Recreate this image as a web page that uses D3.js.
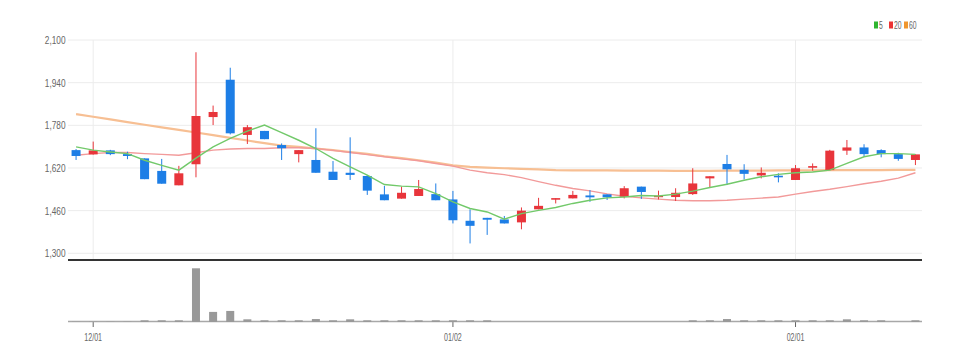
<!DOCTYPE html>
<html><head><meta charset="utf-8">
<script src="https://cdn.jsdelivr.net/npm/d3@7"></script>
<style>body{margin:0;background:#fff}svg{display:block}</style>
</head><body><svg id="c" width="970" height="362"></svg>
<script>
const dates = ["11/30","12/01","12/02","12/05","12/06","12/07","12/08","12/09","12/12","12/13","12/14","12/15","12/16","12/19","12/20","12/21","12/22","12/23","12/26","12/27","12/28","12/29","01/02","01/03","01/04","01/05","01/06","01/09","01/10","01/11","01/12","01/13","01/16","01/17","01/18","01/19","01/20","01/25","01/26","01/27","01/30","01/31","02/01","02/02","02/03","02/06","02/07","02/08","02/09","02/10"];
const openP  = [1687,1671,1686,1672,1656,1609,1555,1634,1811,1951,1744,1759,1706,1672,1650,1606,1602,1590,1521,1505,1515,1522,1502,1422,1433,1427,1416,1465,1501,1506,1517,1521,1512,1550,1511,1511,1522,1581,1635,1613,1592,1591,1575,1621,1612,1685,1697,1687,1672,1650];
const highP  = [1691,1719,1688,1681,1656,1654,1628,2054,1854,1996,1781,1759,1712,1687,1769,1646,1735,1594,1553,1550,1575,1562,1534,1465,1433,1440,1472,1508,1507,1534,1537,1521,1552,1550,1535,1544,1619,1589,1669,1634,1622,1600,1631,1637,1688,1725,1709,1690,1677,1671];
const lowP   = [1650,1670,1668,1653,1578,1561,1555,1585,1781,1746,1710,1728,1650,1641,1602,1575,1575,1519,1499,1505,1515,1499,1412,1337,1369,1412,1390,1465,1487,1506,1493,1500,1506,1504,1502,1496,1519,1547,1556,1577,1581,1566,1575,1610,1612,1669,1662,1660,1647,1631];
const closeP = [1665,1686,1672,1665,1578,1561,1600,1815,1830,1750,1773,1728,1694,1687,1602,1575,1594,1535,1499,1527,1541,1499,1424,1403,1426,1412,1460,1478,1507,1519,1510,1510,1544,1530,1516,1527,1562,1589,1615,1598,1602,1585,1619,1627,1685,1697,1672,1672,1654,1671];
const volume = [5,5,5,5,32,32,32,1000,188,206,50,32,32,32,55,32,50,32,32,32,32,32,32,32,32,0,0,0,0,0,0,0,0,0,0,0,32,32,55,32,32,32,32,32,32,50,32,32,0,32];
const ma5  = [1699,1687,1680,1674,1649,1630,1612,1657,1699,1731,1758,1781,1753,1724,1693,1656,1624,1593,1558,1552,1549,1524,1493,1468,1455,1428,1449,1461,1472,1487,1499,1508,1511,1517,1515,1522,1533,1547,1559,1574,1587,1596,1602,1605,1612,1637,1662,1674,1674,1671];
const ma20 = [1668,1674,1678,1678,1674,1671,1668,1677,1687,1691,1693,1693,1696,1696,1693,1686,1678,1670,1662,1654,1647,1637,1627,1612,1602,1595,1584,1569,1555,1543,1534,1523,1514,1508,1503,1499,1497,1497,1499,1503,1507,1511,1522,1532,1540,1550,1561,1570,1582,1602];
const ma60 = [1822,1812,1802,1792,1782,1772,1763,1753,1743,1733,1723,1713,1704,1699,1693,1687,1680,1673,1664,1657,1649,1640,1630,1624,1621,1619,1617,1615,1612,1611,1611,1611,1610,1610,1610,1609,1609,1609,1610,1610,1610,1611,1611,1611,1612,1612,1612,1612,1613,1613];
const yTicks = [1300,1460,1620,1780,1940,2100];
const xTickLabels = ["12/01","01/02","02/01"];
const legendLabels = ["5","20","60"];

const left = 67.5, right = 924;
const UP = "#e8353b", DOWN = "#1d7ee6";
const C5 = "#72c96a", C20 = "#f29a9a", C60 = "#f7bf93";
const LEG = ["#2fb52f", "#ec3434", "#f0962e"];

const svg = d3.select("#c");
const idx = d3.range(dates.length);
const x = d3.scaleBand().domain(idx).range([left, right]).padding(0);
const cx = i => x(i) + x.bandwidth() / 2;
const y = d3.scaleLinear().domain([1300, 2100]).range([253.3, 40]);
const vy = d3.scaleLinear().domain([0, d3.max(volume) / 0.895]).range([322, 262]);

function ntext(g, tx, ty, str, size, anchor, sx, fill) {
  g.append("g").attr("transform", `translate(${tx},${ty}) scale(${sx},1)`)
    .append("text").attr("font-family", "'Liberation Sans', Arial, sans-serif")
    .attr("font-size", size).attr("text-anchor", anchor).attr("fill", fill).text(str);
}

// grid
const grid = svg.append("g");
yTicks.forEach(t => {
  grid.append("line").attr("x1", 68).attr("x2", 922).attr("y1", y(t)).attr("y2", y(t))
    .attr("stroke", "#ececec").attr("stroke-width", 1);
  ntext(grid, 65.5, y(t) + 4, d3.format(",")(t), "11.5px", "end", 0.72, "#666");
});
const tickIdx = xTickLabels.map(l => dates.indexOf(l));
tickIdx.forEach((i, k) => {
  grid.append("line").attr("x1", cx(i)).attr("x2", cx(i)).attr("y1", 40).attr("y2", 260)
    .attr("stroke", "#ececec").attr("stroke-width", 1);
  grid.append("line").attr("x1", cx(i)).attr("x2", cx(i)).attr("y1", 322).attr("y2", 327)
    .attr("stroke", "#666").attr("stroke-width", 1);
  ntext(grid, cx(i), 341, xTickLabels[k], "10px", "middle", 0.71, "#666");
});

// MA lines
const line = arr => d3.line().x((d, i) => cx(i)).y(d => y(d))(arr);
svg.append("path").attr("d", line(ma60)).attr("fill", "none").attr("stroke", C60).attr("stroke-width", 2.2);
svg.append("path").attr("d", line(ma20)).attr("fill", "none").attr("stroke", C20).attr("stroke-width", 1.4);

// candles
const bw = 9;
const cg = svg.append("g");
idx.forEach(i => {
  const up = closeP[i] >= openP[i];
  const col = up ? UP : DOWN;
  cg.append("line").attr("x1", cx(i)).attr("x2", cx(i))
    .attr("y1", y(highP[i])).attr("y2", y(lowP[i])).attr("stroke", col).attr("stroke-width", 1);
  const top = y(Math.max(openP[i], closeP[i])), bot = y(Math.min(openP[i], closeP[i]));
  cg.append("rect").attr("x", cx(i) - bw / 2).attr("y", top).attr("width", bw)
    .attr("height", Math.max(1.5, bot - top)).attr("fill", col);
});

svg.append("path").attr("d", line(ma5)).attr("fill", "none").attr("stroke", C5).attr("stroke-width", 1.4);

// price panel bottom line
svg.append("line").attr("x1", 68).attr("x2", 922).attr("y1", 260).attr("y2", 260)
  .attr("stroke", "#333").attr("stroke-width", 2);

// volume
svg.append("line").attr("x1", 68).attr("x2", 922).attr("y1", 321.5).attr("y2", 321.5)
  .attr("stroke", "#a8a8a8").attr("stroke-width", 1.6);
svg.append("g").selectAll("rect").data(volume).join("rect")
  .attr("x", (d, i) => cx(i) - 4).attr("width", 8)
  .attr("y", d => vy(d)).attr("height", d => 322 - vy(d))
  .attr("fill", "#999");

// legend
const lg = svg.append("g");
const legX = [874, 889, 904];
legendLabels.forEach((l, k) => {
  lg.append("rect").attr("x", legX[k]).attr("y", 21.5).attr("width", 4).attr("height", 7).attr("fill", LEG[k]);
  ntext(lg, legX[k] + 5, 28.5, l, "10px", "start", 0.68, "#666");
});
</script></body></html>
